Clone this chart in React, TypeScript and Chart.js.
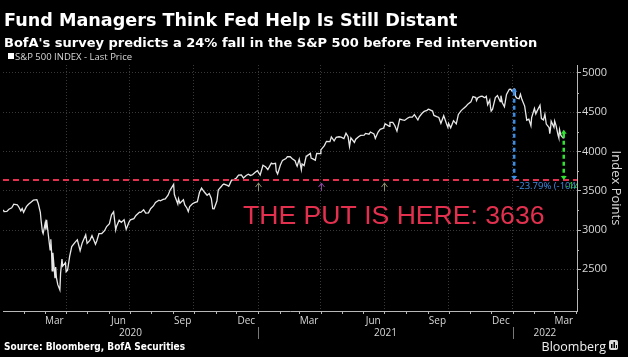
import React, { useEffect, useRef } from 'react';
import { Chart, registerables } from 'chart.js';
Chart.register(...registerables);

const TITLE = 'Fund Managers Think Fed Help Is Still Distant';
const SUBTITLE = "BofA's survey predicts a 24% fall in the S&P 500 before Fed intervention";
const SOURCE = 'Source: Bloomberg, BofA Securities';
const SERIES_LABEL = 'S&P 500 INDEX - Last Price';
const Y_TITLE = 'Index Points';
const BRAND = 'Bloomberg';

const dates: string[] = [
  '2020-01-02','2020-01-03','2020-01-07','2020-01-10','2020-01-14','2020-01-17','2020-01-22','2020-01-24','2020-01-27','2020-01-29','2020-01-31',
  '2020-02-04','2020-02-07','2020-02-11','2020-02-14','2020-02-19','2020-02-21','2020-02-24','2020-02-25','2020-02-27','2020-02-28',
  '2020-03-02','2020-03-03','2020-03-04','2020-03-06','2020-03-09','2020-03-10','2020-03-11','2020-03-12','2020-03-13','2020-03-16','2020-03-17','2020-03-18','2020-03-20','2020-03-23','2020-03-24','2020-03-26','2020-03-27','2020-03-31',
  '2020-04-01','2020-04-03','2020-04-06','2020-04-09','2020-04-14','2020-04-17','2020-04-21','2020-04-24','2020-04-29',
  '2020-05-01','2020-05-05','2020-05-08','2020-05-13','2020-05-15','2020-05-18','2020-05-22','2020-05-26','2020-05-29',
  '2020-06-02','2020-06-05','2020-06-08','2020-06-11','2020-06-12','2020-06-16','2020-06-19','2020-06-23','2020-06-26','2020-06-30',
  '2020-07-02','2020-07-07','2020-07-10','2020-07-15','2020-07-17','2020-07-21','2020-07-24','2020-07-28','2020-07-31',
  '2020-08-04','2020-08-07','2020-08-12','2020-08-14','2020-08-18','2020-08-21','2020-08-25','2020-08-28',
  '2020-09-02','2020-09-03','2020-09-04','2020-09-08','2020-09-09','2020-09-11','2020-09-16','2020-09-18','2020-09-21','2020-09-23','2020-09-25','2020-09-29',
  '2020-10-02','2020-10-06','2020-10-09','2020-10-12','2020-10-16','2020-10-20','2020-10-23','2020-10-26','2020-10-28','2020-10-30',
  '2020-11-03','2020-11-05','2020-11-09','2020-11-11','2020-11-13','2020-11-18','2020-11-20','2020-11-24','2020-11-27',
  '2020-12-01','2020-12-04','2020-12-08','2020-12-11','2020-12-15','2020-12-18','2020-12-21','2020-12-24','2020-12-28','2020-12-31',
  '2021-01-04','2021-01-08','2021-01-12','2021-01-15','2021-01-20','2021-01-22','2021-01-26','2021-01-27','2021-01-29',
  '2021-02-02','2021-02-05','2021-02-10','2021-02-12','2021-02-16','2021-02-19','2021-02-23','2021-02-25','2021-02-26',
  '2021-03-01','2021-03-04','2021-03-05','2021-03-08','2021-03-11','2021-03-12','2021-03-17','2021-03-18','2021-03-19','2021-03-24','2021-03-26','2021-03-31',
  '2021-04-01','2021-04-06','2021-04-09','2021-04-14','2021-04-16','2021-04-20','2021-04-23','2021-04-27','2021-04-30',
  '2021-05-04','2021-05-07','2021-05-10','2021-05-12','2021-05-14','2021-05-19','2021-05-21','2021-05-25','2021-05-28',
  '2021-06-02','2021-06-04','2021-06-09','2021-06-11','2021-06-16','2021-06-18','2021-06-22','2021-06-25','2021-06-30',
  '2021-07-02','2021-07-08','2021-07-09','2021-07-13','2021-07-16','2021-07-19','2021-07-23','2021-07-27','2021-07-30',
  '2021-08-03','2021-08-06','2021-08-10','2021-08-13','2021-08-18','2021-08-20','2021-08-24','2021-08-27','2021-08-31',
  '2021-09-02','2021-09-03','2021-09-08','2021-09-10','2021-09-14','2021-09-17','2021-09-20','2021-09-24','2021-09-28','2021-09-30',
  '2021-10-01','2021-10-04','2021-10-08','2021-10-12','2021-10-15','2021-10-19','2021-10-22','2021-10-26','2021-10-29',
  '2021-11-02','2021-11-05','2021-11-09','2021-11-10','2021-11-12','2021-11-16','2021-11-18','2021-11-19','2021-11-22','2021-11-24','2021-11-26','2021-11-29','2021-11-30',
  '2021-12-01','2021-12-03','2021-12-07','2021-12-10','2021-12-14','2021-12-15','2021-12-17','2021-12-20','2021-12-23','2021-12-27','2021-12-29','2021-12-31',
  '2022-01-03','2022-01-04','2022-01-05','2022-01-07','2022-01-10','2022-01-12','2022-01-14','2022-01-18','2022-01-21','2022-01-24','2022-01-27','2022-01-28',
  '2022-02-01','2022-02-03','2022-02-04','2022-02-09','2022-02-11','2022-02-14','2022-02-16','2022-02-18','2022-02-22','2022-02-23','2022-02-24','2022-02-25',
  '2022-03-01','2022-03-02','2022-03-04','2022-03-07','2022-03-08','2022-03-09','2022-03-11','2022-03-14','2022-03-15',
];

const closes: number[] = [
  3257.85,3234.85,3237.18,3265.35,3283.15,3329.62,3321.75,3295.47,3243.63,3273.40,3225.52,
  3297.59,3327.71,3357.75,3380.16,3386.15,3337.75,3225.89,3128.21,2978.76,2954.22,
  3090.23,3003.37,3130.12,2972.37,2746.56,2882.23,2741.38,2480.64,2711.02,2386.13,2529.19,2398.10,2304.92,2237.40,2447.33,2630.07,2541.47,2584.59,
  2470.50,2488.65,2663.68,2789.82,2846.06,2874.56,2736.56,2836.74,2939.51,
  2830.71,2868.44,2929.80,2820.00,2863.70,2953.91,2955.45,2991.77,3044.31,
  3080.82,3193.93,3232.39,3002.10,3041.31,3124.74,3097.74,3131.29,3009.05,3100.29,
  3130.01,3145.32,3185.04,3226.56,3224.73,3257.30,3215.63,3218.44,3271.12,
  3306.51,3351.28,3380.35,3372.85,3389.78,3397.16,3443.62,3508.01,
  3580.84,3455.06,3426.96,3331.84,3398.96,3340.97,3385.49,3319.47,3281.06,3236.92,3298.46,3335.47,
  3348.44,3360.95,3477.13,3534.22,3483.81,3443.12,3465.39,3400.97,3271.03,3269.96,
  3369.16,3510.45,3550.50,3572.66,3585.15,3567.79,3557.54,3635.41,3638.35,
  3662.45,3699.12,3702.25,3663.46,3694.62,3709.41,3694.92,3703.06,3735.36,3756.07,
  3700.65,3824.68,3801.19,3768.25,3851.85,3841.47,3849.62,3750.77,3714.24,
  3826.31,3886.83,3909.88,3934.83,3932.59,3906.71,3881.37,3829.34,3811.15,
  3901.82,3768.47,3841.94,3821.35,3939.34,3943.34,3974.12,3915.46,3913.10,3889.14,3974.54,3972.89,
  4019.87,4073.94,4128.80,4124.66,4185.47,4134.94,4180.17,4186.72,4181.17,
  4164.66,4232.60,4188.43,4063.04,4173.85,4115.68,4155.86,4188.13,4204.11,
  4208.12,4229.89,4219.55,4247.44,4223.70,4166.45,4246.44,4280.70,4297.50,
  4352.34,4320.82,4369.55,4369.21,4327.16,4258.49,4411.79,4401.46,4395.26,
  4423.15,4436.52,4436.75,4468.00,4400.27,4441.67,4486.23,4509.37,4522.68,
  4536.95,4535.43,4514.07,4458.58,4443.05,4432.99,4357.73,4455.48,4352.63,4307.54,
  4357.04,4300.46,4391.34,4350.65,4471.37,4519.63,4544.90,4574.79,4605.38,
  4630.65,4697.53,4685.25,4646.71,4682.85,4700.90,4704.54,4697.96,4682.94,4701.46,4594.62,4655.27,4567.00,
  4513.04,4538.43,4686.75,4712.02,4634.09,4709.85,4620.64,4568.02,4725.79,4791.19,4793.06,4766.18,
  4796.56,4793.54,4700.58,4677.03,4670.29,4726.35,4662.85,4577.11,4397.94,4410.13,4326.51,4431.85,
  4546.54,4477.44,4500.53,4587.18,4418.64,4401.67,4475.01,4348.87,4304.76,4225.50,4288.70,4384.65,
  4306.26,4386.54,4328.87,4201.09,4170.70,4277.88,4204.31,4173.11,4262.45,
];

const PUT_LEVEL = 3636;
const PUT_LABEL = 'THE PUT IS HERE: 3636';
const PEAK_DATE = '2022-01-03';
const PEAK_VALUE = 4796.56;
const LAST_DATE = '2022-03-15';
const LAST_VALUE = 4262.45;
const PEAK_CHANGE_LABEL = '-23.79% (-1041.43)';
const LAST_CHANGE_LABEL = '-14.69% (-626.45)';

const yTicks: number[] = [2500, 3000, 3500, 4000, 4500, 5000];
const yMinorTicks: number[] = [2250, 2750, 3250, 3750, 4250, 4750];
const Y_MIN = 1970;
const Y_MAX = 5100;

const X_START = '2020-01-01';
const X_END = '2022-04-03';
const gridDates: string[] = ['2020-04-01','2020-07-01','2020-10-01','2021-01-01','2021-04-01','2021-07-01','2021-10-01','2022-01-01'];
const monthLabelDates: string[] = ['2020-03-15','2020-06-15','2020-09-15','2020-12-15','2021-03-15','2021-06-15','2021-09-15','2021-12-15','2022-03-15'];
const monthLabelNames: string[] = ['Mar','Jun','Sep','Dec','Mar','Jun','Sep','Dec','Mar'];
const yearNames: string[] = ['2020','2021','2022'];
const yearStarts: string[] = ['2020-01-01','2021-01-01','2022-01-01'];
const markerDates: string[] = ['2021-01-01','2021-04-01','2021-07-01'];
const markerColors: string[] = ['#8c8f6e','#8e45a0','#8c8f6e'];

const EPOCH = Date.parse('2020-01-01T00:00:00Z');
const dayOf = (s: string) => (Date.parse(s + 'T00:00:00Z') - EPOCH) / 86400000;

const X_MIN = dayOf(X_START) + 0.5;
const X_MAX = dayOf(X_END);

const RED = '#e3304f';
const BLUE = '#3b8ee6';
const GREEN = '#2fe32f';
const AXIS = '#b8b8b8';
const TXT = '#d8d8d8';
const GRID = 'rgba(255,255,255,0.22)';
const BOLD_FONT = '"DejaVu Sans", sans-serif';
const COND_FONT = '"DejaVu Sans Condensed", "DejaVu Sans", sans-serif';
const UI_FONT = '"Open Sans", "DejaVu Sans", sans-serif';

const monthStarts = (): number[] => {
  const out: number[] = [];
  for (let y = 2020; y <= 2022; y++) {
    for (let m = 0; m < 12; m++) {
      const d = (Date.UTC(y, m, 1) - EPOCH) / 86400000;
      if (d > X_MIN && d < X_MAX) out.push(d);
    }
  }
  return out;
};

function arrowHead(ctx: CanvasRenderingContext2D, x: number, y: number, dir: number, color: string) {
  ctx.save();
  ctx.fillStyle = color;
  ctx.beginPath();
  ctx.moveTo(x, y);
  ctx.lineTo(x - 3, y - dir * 4);
  ctx.lineTo(x + 3, y - dir * 4);
  ctx.closePath();
  ctx.fill();
  ctx.restore();
}

const overlayPlugin = {
  id: 'overlay',
  beforeDraw(chart: any) {
    const ctx = chart.ctx;
    ctx.save();
    ctx.fillStyle = '#000';
    ctx.fillRect(0, 0, chart.width, chart.height);
    ctx.restore();
  },
  afterDatasetsDraw(chart: any) {
    const ctx: CanvasRenderingContext2D = chart.ctx;
    const xs = chart.scales.x;
    const ys = chart.scales.y;
    const area = chart.chartArea;
    const yPut = ys.getPixelForValue(PUT_LEVEL);

    ctx.save();
    ctx.beginPath();
    ctx.rect(area.left, area.top, area.right - area.left, area.bottom - area.top);
    ctx.clip();

    // put level line
    ctx.strokeStyle = RED;
    ctx.lineWidth = 2;
    ctx.setLineDash([6, 4]);
    ctx.beginPath();
    ctx.moveTo(area.left, yPut);
    ctx.lineTo(area.right, yPut);
    ctx.stroke();

    // event markers
    ctx.setLineDash([]);
    ctx.lineWidth = 1;
    markerDates.forEach((d, i) => {
      const x = Math.round(xs.getPixelForValue(dayOf(d))) + 0.5;
      ctx.strokeStyle = markerColors[i];
      ctx.beginPath();
      ctx.moveTo(x, yPut + 3);
      ctx.lineTo(x, yPut + 11);
      ctx.moveTo(x - 3, yPut + 7);
      ctx.lineTo(x, yPut + 3);
      ctx.lineTo(x + 3, yPut + 7);
      ctx.stroke();
    });

    // drawdown lines
    const drawDrop = (date: string, value: number, color: string, label: string) => {
      const x = xs.getPixelForValue(dayOf(date));
      const yTop = ys.getPixelForValue(value);
      ctx.strokeStyle = color;
      ctx.lineWidth = 2.5;
      ctx.setLineDash([4, 3]);
      ctx.beginPath();
      ctx.moveTo(x, yTop + 3);
      ctx.lineTo(x, yPut - 3);
      ctx.stroke();
      ctx.setLineDash([]);
      arrowHead(ctx, x, yTop - 1, -1, color);
      arrowHead(ctx, x, yPut, 1, color);
      ctx.fillStyle = color;
      ctx.font = `9.5px ${UI_FONT}`;
      ctx.textAlign = 'left';
      ctx.textBaseline = 'top';
      ctx.fillText(label, x + 2, yPut + 1);
    };
    drawDrop(PEAK_DATE, PEAK_VALUE, BLUE, PEAK_CHANGE_LABEL);
    drawDrop(LAST_DATE, LAST_VALUE, GREEN, LAST_CHANGE_LABEL);

    // put label
    ctx.fillStyle = RED;
    ctx.font = '26.6px "Liberation Sans", Arial, sans-serif';
    ctx.textAlign = 'left';
    ctx.textBaseline = 'alphabetic';
    ctx.fillText(PUT_LABEL, area.left + 240, yPut + 44);
    ctx.restore();
  },
  afterDraw(chart: any) {
    const ctx: CanvasRenderingContext2D = chart.ctx;
    const xs = chart.scales.x;
    const ys = chart.scales.y;
    const area = chart.chartArea;
    ctx.save();

    // titles
    ctx.fillStyle = '#ffffff';
    ctx.textAlign = 'left';
    ctx.textBaseline = 'alphabetic';
    ctx.font = `bold 17.6px ${BOLD_FONT}`;
    ctx.fillText(TITLE, 4, 26);
    ctx.font = `bold 13px ${BOLD_FONT}`;
    ctx.fillText(SUBTITLE, 4, 47);

    // legend
    ctx.fillStyle = '#ffffff';
    ctx.fillRect(8, 53, 6, 6);
    ctx.fillStyle = TXT;
    ctx.font = `9.5px ${UI_FONT}`;
    ctx.fillText(SERIES_LABEL, 15, 59.5);

    // x axis month ticks
    ctx.strokeStyle = AXIS;
    ctx.lineWidth = 1;
    monthStarts().forEach((d) => {
      const x = Math.round(xs.getPixelForValue(d)) + 0.5;
      ctx.beginPath();
      ctx.moveTo(x, area.bottom);
      ctx.lineTo(x, area.bottom + 3);
      ctx.stroke();
    });

    // month labels
    ctx.fillStyle = TXT;
    ctx.font = `10px ${UI_FONT}`;
    ctx.textAlign = 'center';
    ctx.textBaseline = 'middle';
    monthLabelDates.forEach((d, i) => {
      ctx.fillText(monthLabelNames[i], xs.getPixelForValue(dayOf(d)), area.bottom + 10);
    });

    // year labels and separators
    yearNames.forEach((name, i) => {
      const s = Math.max(X_MIN, dayOf(yearStarts[i]));
      const e = i + 1 < yearStarts.length ? dayOf(yearStarts[i + 1]) : X_MAX;
      const xc = (xs.getPixelForValue(s) + xs.getPixelForValue(e)) / 2;
      ctx.fillStyle = TXT;
      ctx.fillText(name, xc, area.bottom + 22.5);
      if (i > 0) {
        const x = Math.round(xs.getPixelForValue(dayOf(yearStarts[i]))) + 0.5;
        ctx.beginPath();
        ctx.strokeStyle = '#777';
        ctx.moveTo(x, area.bottom + 16);
        ctx.lineTo(x, area.bottom + 28);
        ctx.stroke();
      }
    });

    // y minor ticks
    ctx.strokeStyle = AXIS;
    yMinorTicks.forEach((v) => {
      const y = Math.round(ys.getPixelForValue(v)) + 0.5;
      ctx.beginPath();
      ctx.moveTo(area.right, y);
      ctx.lineTo(area.right + 2, y);
      ctx.stroke();
    });

    // footer
    ctx.textAlign = 'left';
    ctx.textBaseline = 'alphabetic';
    ctx.fillStyle = '#ffffff';
    ctx.font = `bold 10px ${COND_FONT}`;
    ctx.fillText(SOURCE, 4, 350);

    ctx.font = `12.5px ${UI_FONT}`;
    ctx.textAlign = 'right';
    ctx.fillStyle = '#f0f0f0';
    ctx.fillText(BRAND, 606, 351);
    ctx.fillStyle = '#dcdcdc';
    ctx.beginPath();
    ctx.roundRect(609, 340, 9, 10, 2);
    ctx.fill();
    ctx.fillStyle = '#000';
    ctx.fillRect(611, 344, 1.5, 4);
    ctx.fillRect(613.5, 342, 1.5, 6);
    ctx.fillRect(616, 345, 1, 3);
    ctx.restore();
  },
};

export default function App() {
  const ref = useRef<HTMLCanvasElement | null>(null);

  useEffect(() => {
    document.body.style.margin = '0';
    document.body.style.background = '#000';
    const canvas = ref.current;
    if (!canvas) return;
    const points = dates.map((d, i) => ({ x: dayOf(d), y: closes[i] }));
    const chart = new Chart(canvas, {
      type: 'line',
      data: {
        datasets: [
          {
            label: SERIES_LABEL,
            data: points,
            borderColor: '#e8e8e8',
            borderWidth: 1.3,
            pointRadius: 0,
            tension: 0,
            fill: false,
          },
        ],
      },
      options: {
        responsive: false,
        animation: false,
        devicePixelRatio: 1,
        parsing: false,
        normalized: true,
        layout: { padding: { top: 65, left: 3, right: 0, bottom: 0 } },
        plugins: {
          legend: { display: false },
          title: { display: false },
          tooltip: { enabled: false },
        },
        scales: {
          x: {
            type: 'linear',
            position: 'bottom',
            min: X_MIN,
            max: X_MAX,
            afterBuildTicks: (scale: any) => {
              scale.ticks = gridDates.map((d) => ({ value: dayOf(d) }));
            },
            afterFit: (scale: any) => {
              scale.height = 46;
            },
            ticks: { display: false },
            grid: { color: GRID, drawTicks: false, lineWidth: 1 },
            border: { color: AXIS, width: 1, dash: [1, 2] },
          },
          y: {
            type: 'linear',
            position: 'right',
            min: Y_MIN,
            max: Y_MAX,
            afterBuildTicks: (scale: any) => {
              scale.ticks = yTicks.map((v) => ({ value: v }));
            },
            afterFit: (scale: any) => {
              scale.width = 51;
            },
            ticks: {
              color: TXT,
              font: { family: UI_FONT, size: 11 },
              padding: 1,
              callback: (v: any) => String(v),
            },
            grid: { color: GRID, drawTicks: true, tickLength: 4, tickColor: AXIS, tickBorderDash: [], lineWidth: 1 },
            border: { color: AXIS, width: 1, dash: [1, 2] },
            title: {
              display: true,
              text: Y_TITLE,
              color: TXT,
              font: { family: UI_FONT, size: 13 },
              padding: { top: 4, bottom: 0 },
            },
          },
        },
      },
      plugins: [overlayPlugin],
    });
    return () => chart.destroy();
  }, []);

  return (
    <div style={{ width: 628, height: 357, background: '#000' }}>
      <canvas ref={ref} width={628} height={357} style={{ display: 'block' }} />
    </div>
  );
}
